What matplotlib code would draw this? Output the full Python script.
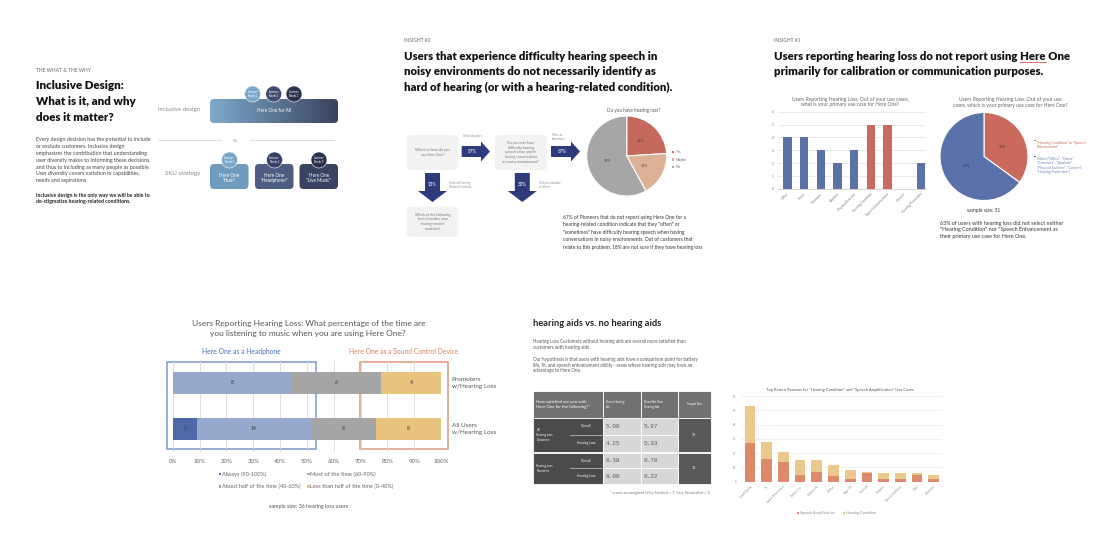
import numpy as np
import matplotlib
matplotlib.use('Agg')
import matplotlib.pyplot as plt
from matplotlib.patches import FancyBboxPatch, Circle, Polygon, Rectangle
from matplotlib.colors import LinearSegmentedColormap

W, H = 1106, 551
plt.rcParams['font.family'] = ['Lato', 'DejaVu Sans']

# ---- data ----
intro_title = ["Inclusive Design:", "What is it, and why", "does it matter?"]
intro_body = ["Every design decision has the potential to include",
              "or exclude customers. Inclusive design",
              "emphasizes the contribution that understanding",
              "user diversity makes to informing these decisions,",
              "and thus to including as many people as possible.",
              "User diversity covers variation in capabilities,",
              "needs and aspirations."]
intro_bold = ["Inclusive design is the only way we will be able to",
              "de-stigmatize hearing-related conditions."]
sku_names = ['Here One\n"Hum"', 'Here One\n"Headphone"', 'Here One\n"Live Music"']
needs = ["Customer\nNeeds 1", "Customer\nNeeds 2", "Customer\nNeeds 3"]

ins2_title = ["Users that experience difficulty hearing speech in",
              "noisy environments do not necessarily identify as",
              "hard of hearing (or with a hearing-related condition)."]
ins2_body = ["67% of Pioneers that do not report using Here One for a",
             "hearing-related condition indicate that they \"often\" or",
             "\"sometimes\" have difficulty hearing speech when having",
             "conversations in noisy environments. Out of customers that",
             "relate to this problem, 18% are not sure if they have hearing loss"]
flow_pcts = ["87%", "67%", "13%", "33%"]
hl_labels = ["Yes", "Maybe", "No"]
hl_values = [24, 18, 58]
hl_colors = ['#c4695b', '#ddb196', '#a6a6a6']

ins1_title = ["Users reporting hearing loss do not report using Here One",
              "primarily for calibration or communication purposes."]
use_cases = ["Office", "Home", "Commute", "Airplane", "Physical Exercise",
             "Hearing Condition", "Speech Enhancement", "Concert", "Hearing Protection"]
use_counts = [4, 4, 3, 2, 3, 5, 5, 0, 2]
use_focus = ["Hearing Condition", "Speech Enhancement"]
share_labels = ['"Hearing Condition" or "Speech\nEnhancement"',
                'Other ("Office", "Home",\n"Commute", "Airplane",\n"Physical Exercise", "Concert",\n"Hearing Protection")']
share_values = [35, 65]
ins1_body = ["63% of users with hearing loss did not select neither",
             "\"Hearing Condition\" nor \"Speech Enhancement as",
             "their primary use case for Here One."]

music_groups = ["All Users\nw/Hearing Loss", "Promoters\nw/Hearing Loss"]
music_levels = ["Always (90-100%)", "Most of the time (60-90%)",
                "About half of the time (40-60%)", "Less than half of the time (0-40%)"]
always = [3, 0]
most = [14, 8]
half = [8, 6]
less = [8, 4]
music_colors = ['#4f69a8', '#97a8cd', '#a5a5a5', '#e9c47f']

table_head = ["How satisfied are you with\nHere One for the following?*",
              "Owns Hearing\nAid", "Does Not Own\nHearing Aid", "Sample Size"]
table_groups = ["All\nHearing Loss\nCustomers", "Hearing Loss\nPromoters"]
table_rows = ["Overall", "Hearing Loss"]
owns_aid = [[5.00, 4.25], [6.38, 6.00]]
no_aid = [[5.87, 5.33], [6.78, 6.22]]
table_n = [30, 13]

reasons = ["Sound Quality", "Fit", "Speech Enhancement", "Connectivity", "Battery Life",
           "Comfort", "App / UX", "Too Loud", "Feedback", "Noise Cancellation", "Other", "Calibration"]
speech_amp = [27, 16, 14, 5, 7, 4, 2, 6, 2, 2, 5, 2]
hearing_cond = [26, 12, 7, 10, 8, 8, 6, 1, 4, 4, 1, 3]

# ---- figure ----
fig = plt.figure(figsize=(W / 100, H / 100), dpi=100)
ov = fig.add_axes([0, 0, 1, 1])
ov.set_xlim(0, W)
ov.set_ylim(H, 0)
ov.axis('off')
ov.set_autoscale_on(False)


def px_axes(x0, y0, x1, y1):
    return fig.add_axes([x0 / W, 1 - y1 / H, (x1 - x0) / W, (y1 - y0) / H])


def lines(x, y0, step, rows, **kw):
    for i, r in enumerate(rows):
        ov.text(x, y0 + step * i, r, va='center', **kw)


def rbox(x, y, w, h, fc, r=4, z=2):
    p = FancyBboxPatch((x, y), w, h, boxstyle=f'round,pad=0,rounding_size={r}',
                       fc=fc, ec='none', zorder=z)
    ov.add_patch(p)
    return p


def block_arrow(x0, y0, x1, y1, sw, hw, hl, color):
    d = np.array([x1 - x0, y1 - y0], float)
    L = np.hypot(*d)
    u = d / L
    n = np.array([-u[1], u[0]])
    p0 = np.array([x0, y0])
    pb = p0 + u * (L - hl)
    tip = np.array([x1, y1])
    pts = [p0 + n * sw, pb + n * sw, pb + n * hw, tip, pb - n * hw, pb - n * sw, p0 - n * sw]
    ov.add_patch(Polygon(pts, closed=True, fc=color, ec='none', zorder=2))


# ===== panel 1: inclusive design =====
ov.text(36, 70, "THE WHAT & THE WHY", fontsize=3.6, color='#8c8c8c', fontweight='bold', va='center')
lines(36, 85.5, 15.8, intro_title, fontsize=8.3, fontweight='heavy', color='#111111')
lines(36, 140, 6.8, intro_body, fontsize=3.75, color='#444444')
lines(36, 195, 6.6, intro_bold, fontsize=3.7, fontweight='bold', color='#222222')

ov.text(158, 110, "inclusive design", fontsize=4.4, color='#8a8a8a', va='center')
gbox = rbox(210, 99, 128, 24, 'none')
grad = np.linspace(0, 1, 256).reshape(1, -1)
cm = LinearSegmentedColormap.from_list('g', ['#7eaacb', '#3a435e'])
im = ov.imshow(grad, extent=(210, 338, 123, 99), cmap=cm, aspect='auto', zorder=2)
im.set_clip_path(gbox)
ov.text(274, 111, "Here One for All", fontsize=3.3, color='white', ha='center', va='center', zorder=4)
top_circles = [(252.7, '#7ba7c9'), (273.7, '#3e4a70'), (294, '#2b3250')]
for (cx, col), t in zip(top_circles, needs):
    ov.add_patch(Circle((cx, 94), 8, fc=col, ec='white', lw=0.4, zorder=5))
    ov.text(cx, 94, t, fontsize=1.8, color='white', ha='center', va='center', zorder=6, linespacing=1.1)

ov.plot([158, 221], [140, 140], color='#dddddd', lw=0.7)
ov.plot([250, 334], [140, 140], color='#dddddd', lw=0.7)
ov.text(235.7, 140, "vs.", fontsize=3.5, color='#9a9a9a', ha='center', va='center')
ov.text(165, 174, "SKU strategy", fontsize=4.4, color='#8a8a8a', va='center')
sku_x = [210, 255, 299.5]
sku_col = ['#6f9bbf', '#4e5c82', '#3a4261']
sku_circ = ['#7aa6c9', '#34406a', '#293050']
for x, name, col, ccol, t in zip(sku_x, sku_names, sku_col, sku_circ, needs):
    rbox(x, 164, 38.5, 25, col)
    ov.text(x + 19.25, 178, name, fontsize=3.3, color='white', ha='center', va='center', zorder=4)
    ov.add_patch(Circle((x + 19.5, 160), 8, fc=ccol, ec='white', lw=0.4, zorder=5))
    ov.text(x + 19.5, 160, t, fontsize=1.8, color='white', ha='center', va='center', zorder=6, linespacing=1.1)

# ===== panel 2: insight #2 =====
ov.text(404, 40, "INSIGHT #2", fontsize=3.6, color='#8c8c8c', fontweight='bold', va='center')
lines(404, 56, 15.6, ins2_title, fontsize=8.2, fontweight='heavy', color='#111111')

navy = '#2d3b7c'
rbox(406.7, 135, 51.6, 35, '#f2f2f2')
ov.text(432.5, 152.5, "Where or how do you\nuse Here One?", fontsize=2.6, color='#777777',
        ha='center', va='center', zorder=4)
rbox(495, 135, 51.7, 35, '#f2f2f2')
ov.text(520.8, 152.5, "Do you ever have\ndifficulty hearing\nspeech when you're\nhaving conversations\nin a noisy environment?",
        fontsize=2.5, color='#777777', ha='center', va='center', zorder=4)
rbox(406.7, 206.7, 51.6, 30, '#f2f2f2')
ov.text(432.5, 221.7, "Which of the following\nbest describes your\nhearing-related\ncondition?", fontsize=2.5,
        color='#777777', ha='center', va='center', zorder=4)

block_arrow(461.7, 151.5, 490, 151.5, 5.5, 10, 9, navy)
block_arrow(551, 151.5, 580, 151.5, 5.5, 10, 9, navy)
block_arrow(432.5, 173, 432.5, 202, 7.5, 14.5, 11, navy)
block_arrow(522.3, 173, 522.3, 202, 7.5, 14.5, 11, navy)
for (x, y), t in zip([(472.5, 151.5), (562, 151.5), (432.5, 185), (522.3, 185)], flow_pcts):
    ov.text(x, y, t, fontsize=3.3, color='white', ha='center', va='center', zorder=4)
ov.text(463, 136, "Other Answers", fontsize=2.0, color='#888888', va='center')
ov.text(552, 137, "Often or\nSometimes", fontsize=2.0, color='#888888', va='center')
ov.text(449, 185, "Selected Hearing\nRelated Condition", fontsize=2.0, color='#888888', va='center')
ov.text(539, 185, "Only occasionally\nor Never", fontsize=2.0, color='#888888', va='center')

ov.text(634, 110.7, "Do you have hearing loss?", fontsize=3.3, color='#555555', ha='center', va='center')
pad = 1.05
r2 = 40
ax = px_axes(626.7 - r2 * pad, 156 - r2 * pad, 626.7 + r2 * pad, 156 + r2 * pad)
ax.pie(hl_values, colors=hl_colors, startangle=90, counterclock=False, autopct='%d%%',
       pctdistance=0.5, textprops=dict(fontsize=2.6, color='#444444'),
       wedgeprops=dict(edgecolor='white', linewidth=0.8))
ax.set_xlim(-pad, pad)
ax.set_ylim(-pad, pad)
for i, (lab, col) in enumerate(zip(hl_labels, hl_colors)):
    y = 152 + 7.6 * i
    ov.add_patch(Rectangle((671.5, y - 1.2), 2.4, 2.4, fc=col, ec='none'))
    ov.text(676, y, lab, fontsize=2.6, color='#666666', va='center')
lines(563.3, 217, 7.6, ins2_body, fontsize=3.55, color='#333333')

# ===== panel 3: insight #1 =====
ov.text(774, 40, "INSIGHT #1", fontsize=3.6, color='#8c8c8c', fontweight='bold', va='center')
lines(774, 56, 15.8, ins1_title, fontsize=8.2, fontweight='heavy', color='#111111')
# red underline under "Here" in the first title line
rend = fig.canvas.get_renderer()
inv = ov.transData.inverted()
pre = ov.text(774, 56, ins1_title[0].split("Here One")[0], fontsize=8.2, fontweight='heavy', alpha=0)
word = ov.text(774, 56, "Here", fontsize=8.2, fontweight='heavy', alpha=0)
xa = inv.transform(pre.get_window_extent(rend))[:, 0]
xb = inv.transform(word.get_window_extent(rend))[:, 0]
u0 = 774 + (xa[1] - xa[0])
u1 = u0 + (xb[1] - xb[0])
ov.plot([u0, u1], [62.3, 62.3], color='#d9534f', lw=0.6)

ov.text(850, 99, "Users Reporting Hearing Loss: Out of your use cases,", fontsize=3.6, color='#666666',
        ha='center', va='center')
ov.text(850, 104.5, "what is your primary use case for Here One?", fontsize=3.6, color='#666666',
        ha='center', va='center')
ax = px_axes(778, 111.7, 926, 189)
xpos = np.arange(len(use_cases))
bar_cols = ['#c96a5c' if u in use_focus else '#5a72a9' for u in use_cases]
ax.bar(xpos, use_counts, width=0.5, color=bar_cols, zorder=3)
ax.set_xlim(-0.56, 8.3)
ax.set_ylim(0, 6)
ax.set_yticks(range(7))
ax.yaxis.grid(True, color='#e6e6e6', lw=0.6)
ax.set_xticks(xpos)
ax.set_xticklabels(use_cases, rotation=45, ha='right', rotation_mode='anchor', fontsize=2.3, color='#777777')
ax.tick_params(axis='y', labelsize=2.3, labelcolor='#777777', length=0, pad=3)
ax.tick_params(axis='x', length=0, pad=2)
for s in ax.spines.values():
    s.set_visible(False)
ax.spines['bottom'].set_visible(True)
ax.spines['bottom'].set_color('#cccccc')
ax.spines['bottom'].set_linewidth(0.6)
ax.patch.set_alpha(0)

ov.text(1010, 100, "Users Reporting Hearing Loss: Out of your use", fontsize=3.6, color='#666666',
        ha='center', va='center')
ov.text(1010, 105.5, "cases, which is your primary use case for Here One?", fontsize=3.6, color='#666666',
        ha='center', va='center')
r1 = 44
share_cols = ['#c96a5c', '#5a72a9']
ax = px_axes(984 - r1 * pad, 156.5 - r1 * pad, 984 + r1 * pad, 156.5 + r1 * pad)
ax.pie(share_values, colors=share_cols, startangle=90, counterclock=False, autopct='%d%%',
       pctdistance=0.46, textprops=dict(fontsize=2.6, color='#333333'),
       wedgeprops=dict(edgecolor='white', linewidth=0.8))
ax.set_xlim(-pad, pad)
ax.set_ylim(-pad, pad)
for y, lab, col, tcol in zip([142, 158], share_labels, share_cols, ['#c96a5c', '#6a7fb0']):
    ov.add_patch(Rectangle((1034, y - 2.2), 1.6, 1.6, fc=col, ec='none'))
    ov.text(1037, y - 1.4, lab, fontsize=2.5, color=tcol, va='top', linespacing=1.15)
ov.text(983.3, 210.7, "sample size: 31", fontsize=3.6, color='#333333', ha='center', va='center')
lines(940, 223.3, 6.7, ins1_body, fontsize=3.85, color='#333333')

# ===== panel 4: music listening =====
ov.text(308.3, 323.3, "Users Reporting Hearing Loss: What percentage of the time are", fontsize=6.0,
        color='#555555', ha='center', va='center')
ov.text(308.3, 333.5, "you listening to music when you are using Here One?", fontsize=6.0,
        color='#555555', ha='center', va='center')
ov.text(241.7, 351.7, "Here One as a Headphone", fontsize=4.9, color='#4a6fb0', ha='center', va='center')
ov.text(403.3, 351.7, "Here One as a Sound Control Device", fontsize=4.9, color='#d9825b',
        ha='center', va='center')
ax = px_axes(172.7, 360, 441, 452)
counts = np.array([always, most, half, less], float)
totals = counts.sum(axis=0)
shares = counts / totals * 100
left = np.zeros(len(music_groups))
ypos = np.arange(len(music_groups))
for k in range(len(music_levels)):
    ax.barh(ypos, shares[k], left=left, height=0.48, color=music_colors[k], zorder=3)
    for j in range(len(music_groups)):
        if counts[k, j] > 0:
            ax.text(left[j] + shares[k, j] / 2, ypos[j], f"{int(counts[k, j])}", fontsize=3.6,
                    color='#333333', ha='center', va='center', zorder=4)
    left += shares[k]
for j, g in enumerate(music_groups):
    ax.text(104, ypos[j], g, fontsize=4.6, color='#555555', va='center', ha='left', linespacing=1.5)
ax.set_xlim(0, 100)
ax.set_ylim(-0.5, 1.5)
ax.set_xticks(range(0, 101, 10))
ax.set_xticklabels([f"{v}%" for v in range(0, 101, 10)], fontsize=4.4, color='#666666')
ax.set_yticks([])
ax.xaxis.grid(True, color='#d9d9d9', lw=0.6)
ax.tick_params(axis='x', length=0, pad=5)
for s in ax.spines.values():
    s.set_visible(False)
ax.patch.set_alpha(0)
ov.add_patch(Rectangle((166.7, 362.3), 149.3, 86.7, fill=False, ec='#7f9acb', lw=1.1, zorder=5))
ov.add_patch(Rectangle((360, 362.3), 88.3, 86.7, fill=False, ec='#d99a7a', lw=1.1, zorder=5))
leg_pos = [(220, 474.3), (308.3, 474.3), (220, 486.7), (308.3, 486.7)]
for (x, y), lab, col in zip(leg_pos, music_levels, music_colors):
    ov.add_patch(Rectangle((x - 1, y - 1.3), 2.2, 2.2, fc=col, ec='none'))
    ov.text(x + 2, y, lab, fontsize=4.1, color='#666666', va='center')
ov.text(308.3, 506.7, "sample size: 36 hearing loss users", fontsize=3.9, color='#555555',
        ha='center', va='center')

# ===== panel 5: hearing aids table =====
ov.text(532.7, 323.3, "hearing aids vs. no hearing aids", fontsize=6.7, fontweight='bold',
        color='#222222', va='center')
lines(532.7, 341.7, 5.7, ["Hearing Loss Customers without hearing aids are overall more satisfied than",
                         "customers with hearing aids"], fontsize=3.25, color='#555555')
lines(532.7, 359.3, 5.7, ["Our hypothesis is that users with hearing aids have a comparison point for battery",
                         "life, fit, and speech enhancement ability - areas where hearing aids may have an",
                         "advantage to Here One."], fontsize=3.25, color='#555555')
cx = [532.7, 603.3, 641, 677.5, 710.7]
head_y = (391, 417.7)
grp_y = [(417.7, 451.7), (452.7, 484)]
for i in range(4):
    ov.add_patch(Rectangle((cx[i], head_y[0]), cx[i + 1] - cx[i], head_y[1] - head_y[0],
                           fc='#717171', ec='white', lw=0.6))
ov.text(536.5, 404.3, table_head[0], fontsize=3.1, color='white', va='center', linespacing=1.4)
ov.text(606, 404.3, table_head[1], fontsize=2.1, color='white', va='center', linespacing=1.4)
ov.text(644, 404.3, table_head[2], fontsize=2.1, color='white', va='center', linespacing=1.4)
ov.text((cx[3] + cx[4]) / 2, 404.3, table_head[3], fontsize=2.1, color='white', ha='center', va='center')
for g, (y0, y1) in enumerate(grp_y):
    ym = (y0 + y1) / 2
    ov.add_patch(Rectangle((cx[0], y0), cx[1] - cx[0], y1 - y0, fc='#4b4b4d', ec='white', lw=0.6))
    ov.add_patch(Rectangle((cx[3], y0), cx[4] - cx[3], y1 - y0, fc='#58585a', ec='white', lw=0.6))
    ov.plot([570, cx[1]], [ym, ym], color='#cfcfcf', lw=0.5)
    ov.text(536.5, ym, table_groups[g], fontsize=2.1, color='white', va='center', linespacing=1.3)
    ov.text((cx[3] + cx[4]) / 2, ym, f"{table_n[g]}", fontsize=2.6, color='white', ha='center', va='center')
    for r in range(2):
        ry0 = y0 if r == 0 else ym
        ry1 = ym if r == 0 else y1
        rm = (ry0 + ry1) / 2
        for c in (1, 2):
            ov.add_patch(Rectangle((cx[c], ry0), cx[c + 1] - cx[c], ry1 - ry0, fc='#d7d7d7',
                                   ec='white', lw=0.6))
        ov.text(586.5, rm, table_rows[r], fontsize=2.3, color='white', ha='center', va='center')
        ov.text(606, rm, f"{owns_aid[g][r]:.2f}", fontsize=4.4, color='#5a5a5a', va='center',
                family='Liberation Mono')
        ov.text(644, rm, f"{no_aid[g][r]:.2f}", fontsize=4.4, color='#5a5a5a', va='center',
                family='Liberation Mono')
ov.text(710.7, 492.7, "* scores are weighted (Very Satisfied = 7, Very Dissatisfied = 1)", fontsize=2.6,
        color='#777777', ha='right', va='center')

# ===== panel 6: return reasons =====
ov.text(840, 390, "Top Return Reasons for \"Hearing Condition\" and \"Speech Amplification\" Use Cases",
        fontsize=3.0, color='#555555', ha='center', va='center')
ax = px_axes(740.7, 396, 941.7, 481.7)
rx = np.arange(len(reasons))
ax.bar(rx, speech_amp, width=0.64, color='#dc8a6b', zorder=3)
ax.bar(rx, hearing_cond, width=0.64, bottom=speech_amp, color='#ecc88d', zorder=3)
ax.set_xlim(-0.56, 11.48)
ax.set_ylim(0, 60)
ax.set_yticks(range(0, 61, 10))
ax.yaxis.grid(True, color='#ececec', lw=0.5)
ax.set_xticks(rx)
ax.set_xticklabels(reasons, rotation=45, ha='right', rotation_mode='anchor', fontsize=1.9, color='#888888')
ax.tick_params(axis='y', labelsize=2.0, labelcolor='#888888', length=0, pad=3)
ax.tick_params(axis='x', length=0, pad=2)
for s in ax.spines.values():
    s.set_visible(False)
ax.patch.set_alpha(0)
for x, lab, col in [(798.3, "Speech Amplification", '#dc8a6b'), (844, "Hearing Condition", '#ecc88d')]:
    ov.add_patch(Rectangle((x - 1, 511.5), 2, 2, fc=col, ec='none'))
    ov.text(x + 2, 512.7, lab, fontsize=2.7, color='#888888', va='center')

plt.savefig('out.png', dpi=100)
